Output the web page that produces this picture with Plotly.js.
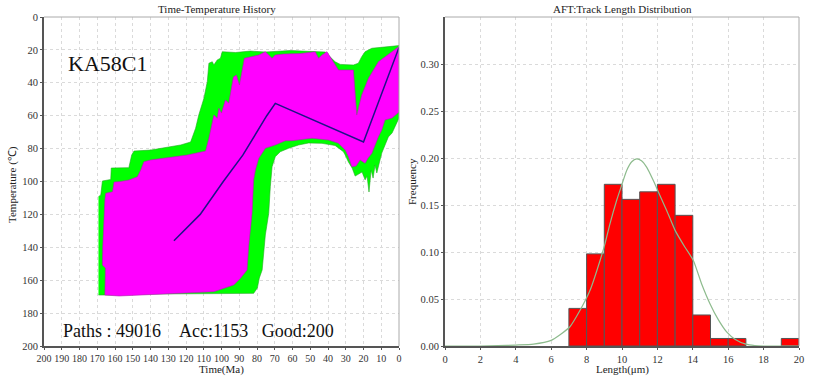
<!DOCTYPE html>
<html>
<head>
<meta charset="utf-8">
<script src="https://cdn.plot.ly/plotly-3.0.1.min.js"></script>
<style>html,body{margin:0;padding:0;background:#fff;}#chart{width:815px;height:377px;}</style>
</head>
<body>
<div id="chart"></div>
<script>
// ---------- Time-Temperature History (left) ----------
// Acceptable-fit envelope (green), outline: time (Ma), temperature (°C)
const accTime = [169.3,168.0,167.1,162.4,162.1,152.2,150.6,149.3,139.9,123.0,117.4,114.6,112.8,109.9,108.0,107.1,105.2,104.3,102.4,100.6,99.6,92.1,83.7,75.3,61.2,48.3,41.6,36.0,33.1,25.7,22.9,21.0,19.1,15.3,9.7,0.0,
  0.0,1.7,3.9,6.0,7.9,9.7,10.7,11.8,12.5,13.5,14.6,15.7,16.9,18.0,19.1,20.8,22.9,24.7,26.4,28.5,30.3,31.3,36.0,43.4,51.0,56.6,62.2,66.9,69.7,71.5,72.5,73.4,75.3,76.2,77.1,78.7,79.8,81.9,111.8,139.9,156.7,168.0,169.3];
const accTemp = [109.2,108.2,99.7,98.8,91.8,91.6,83.9,81.5,80.9,77.8,76.0,67.7,59.6,49.4,39.3,28.1,27.2,29.2,26.1,25.1,21.1,21.6,20.7,21.3,20.4,20.7,21.3,27.2,28.8,29.2,28.1,24.1,21.1,19.0,18.4,17.4,
  61.4,65.7,70.5,72.9,77.8,82.7,86.9,93.0,94.8,90.0,97.9,93.0,106.4,96.7,99.0,94.2,95.4,96.7,91.8,88.1,83.9,81.9,78.1,76.8,76.6,77.8,79.8,81.9,84.9,91.0,103.2,119.3,132.5,141.6,153.8,158.7,164.7,168.0,168.1,168.4,169.0,169.3,169.0];

// Good-fit envelope (magenta), outline
const goodTime = [165.7,165.4,167.1,166.9,165.7,165.2,161.4,160.5,157.7,152.1,147.4,145.5,143.7,139.9,119.3,109.0,107.1,105.2,104.3,102.4,101.5,100.0,97.8,95.9,93.3,91.6,89.9,87.1,79.0,75.3,71.5,69.7,65.0,55.6,48.1,47.2,45.3,43.4,40.6,36.0,34.1,25.7,23.8,21.0,17.2,11.6,4.1,0.0,
  0.0,3.9,7.9,9.7,11.6,13.5,15.3,17.4,19.1,21.9,24.2,26.6,28.5,30.3,34.1,39.7,49.0,60.3,64.0,69.7,75.3,79.0,80.9,81.9,82.8,84.7,85.6,89.3,93.1,104.3,123.0,139.9,157.7,165.7];
const goodTemp = [169.0,152.6,150.8,139.8,111.2,107.2,106.2,100.3,100.1,99.1,97.1,93.0,88.0,86.9,83.9,81.5,73.7,63.6,59.6,61.6,55.5,58.4,50.5,52.3,36.5,35.3,41.3,25.1,23.1,21.1,25.1,23.1,22.5,22.2,21.1,21.1,25.1,23.1,21.1,29.2,32.2,32.2,59.6,47.4,37.3,27.2,21.1,17.9,
  57.8,61.4,62.6,68.7,72.8,77.8,82.9,85.7,88.9,86.9,90.6,91.0,84.9,80.9,76.8,74.8,73.7,75.2,75.2,77.8,79.8,85.9,93.0,99.1,119.3,139.6,153.8,158.8,162.9,167.0,167.8,168.4,169.6,169.0];

// Best-fit path (blue)
const bestTime = [126.8,112.0,99.0,88.0,74.5,69.7,20.0,0.0];
const bestTemp = [136.0,120.0,100.0,84.0,60.0,52.5,76.0,18.5];

const timeTicks = [200,190,180,170,160,150,140,130,120,110,100,90,80,70,60,50,40,30,20,10,0];
const tempTicks = [0,20,40,60,80,100,120,140,160,180,200];

// ---------- AFT: Track Length Distribution (right) ----------
const binLeft = [7,8,9,10,11,12,13,14,15,16,19];
const binFreq = [0.040,0.098,0.172,0.156,0.164,0.172,0.139,0.033,0.008,0.008,0.008];

const curveLen  = [0,2,3,4,5,6,6.5,7.06,7.63,8.19,8.76,9.04,9.32,9.7,9.98,10.27,10.55,10.83,11.1,11.4,11.77,12.05,12.53,13.0,13.56,14.03,14.5,14.97,15.44,15.91,16.4,17,17.5,18,20];
const curveFreq = [0,0,0.0003,0.001,0.002,0.006,0.012,0.0205,0.038,0.059,0.091,0.109,0.130,0.155,0.171,0.187,0.196,0.199,0.197,0.190,0.176,0.164,0.144,0.123,0.105,0.091,0.066,0.045,0.028,0.015,0.007,0.002,0.0005,0,0];

const lengthTicks = [0,2,4,6,8,10,12,14,16,18,20];
const freqTicks = [0,0.05,0.10,0.15,0.20,0.25,0.30];

const binWidth = 1;
const binCenter = binLeft.map(v => v + binWidth / 2);

const SERIF = '"Liberation Serif", "Times New Roman", serif';
const tickFont = {family: SERIF, size: 10.5, color: '#333'};

const traces = [
  {type: 'scatter', x: accTime, y: accTemp, xaxis: 'x', yaxis: 'y', mode: 'lines', fill: 'toself',
   fillcolor: '#00ff00', line: {color: '#22aa22', width: 0.6}, hoverinfo: 'skip'},
  {type: 'scatter', x: goodTime, y: goodTemp, xaxis: 'x', yaxis: 'y', mode: 'lines', fill: 'toself',
   fillcolor: '#ff00ff', line: {color: '#b020b0', width: 0.6}, hoverinfo: 'skip'},
  {type: 'scatter', x: bestTime, y: bestTemp, xaxis: 'x', yaxis: 'y', mode: 'lines',
   line: {color: '#1f1288', width: 1.5}, hoverinfo: 'skip'},
  {type: 'bar', x: binCenter, y: binFreq, width: binWidth, xaxis: 'x2', yaxis: 'y2',
   marker: {color: '#ff0000', line: {color: '#555', width: 1}}, hoverinfo: 'skip'},
  {type: 'scatter', x: curveLen, y: curveFreq, xaxis: 'x2', yaxis: 'y2', mode: 'lines',
   line: {color: '#8dbb8d', width: 1.2, shape: 'spline', smoothing: 0.6}, hoverinfo: 'skip'}
];

const gridStyle = {showgrid: true, gridcolor: '#dadada', griddash: 'dot', gridwidth: 1, zeroline: false,
  showline: true, linecolor: '#555', linewidth: 2, ticks: 'outside', ticklen: 2, tickcolor: '#555',
  tickfont: tickFont, tickangle: 0};

const yDom = [31/377, 360/377];

const layout = {
  width: 815, height: 377,
  margin: {l: 0, r: 0, t: 0, b: 0},
  paper_bgcolor: '#fff', plot_bgcolor: '#fff',
  showlegend: false, hovermode: false,
  bargap: 0,
  xaxis: Object.assign({}, gridStyle, {domain: [44/815, 399/815], range: [200, 0], tickvals: timeTicks, anchor: 'y',
    tickfont: {family: SERIF, size: 10, color: '#333'}}),
  yaxis: Object.assign({}, gridStyle, {domain: yDom, range: [200, 0], tickvals: tempTicks, anchor: 'x'}),
  xaxis2: Object.assign({}, gridStyle, {domain: [445/815, 799/815], range: [0, 20], tickvals: lengthTicks, anchor: 'y2'}),
  yaxis2: Object.assign({}, gridStyle, {domain: yDom, range: [0, 0.35], tickvals: freqTicks, tickformat: '.2f', anchor: 'x2'}),
  shapes: [
    {type: 'line', xref: 'x domain', yref: 'y domain', x0: 0, x1: 1, y0: 1, y1: 1, line: {color: '#aaa', width: 1}},
    {type: 'line', xref: 'x domain', yref: 'y domain', x0: 1, x1: 1, y0: 0, y1: 1, line: {color: '#aaa', width: 1}},
    {type: 'line', xref: 'x2 domain', yref: 'y2 domain', x0: 0, x1: 1, y0: 1, y1: 1, line: {color: '#aaa', width: 1}},
    {type: 'line', xref: 'x2 domain', yref: 'y2 domain', x0: 1, x1: 1, y0: 0, y1: 1, line: {color: '#aaa', width: 1}}
  ],
  annotations: [
    {text: 'Time-Temperature History', xref: 'paper', yref: 'paper', x: 217/815, y: 1 - 9/377, showarrow: false,
     xanchor: 'center', yanchor: 'middle', font: {family: SERIF, size: 11, color: '#222'}},
    {text: 'AFT:Track Length Distribution', xref: 'paper', yref: 'paper', x: 622/815, y: 1 - 9/377, showarrow: false,
     xanchor: 'center', yanchor: 'middle', font: {family: SERIF, size: 11, color: '#222'}},
    {text: 'Time(Ma)', xref: 'paper', yref: 'paper', x: 221/815, y: 1 - 369/377, showarrow: false,
     xanchor: 'center', yanchor: 'middle', font: {family: SERIF, size: 11, color: '#222'}},
    {text: 'Length(μm)', xref: 'paper', yref: 'paper', x: 622/815, y: 1 - 369/377, showarrow: false,
     xanchor: 'center', yanchor: 'middle', font: {family: SERIF, size: 11, color: '#222'}},
    {text: 'Temperature (℃)', xref: 'paper', yref: 'paper', x: 12/815, y: 1 - 185/377, showarrow: false, textangle: -90,
     xanchor: 'center', yanchor: 'middle', font: {family: SERIF, size: 11, color: '#222'}},
    {text: 'Frequency', xref: 'paper', yref: 'paper', x: 412/815, y: 1 - 182/377, showarrow: false, textangle: -90,
     xanchor: 'center', yanchor: 'middle', font: {family: SERIF, size: 11, color: '#222'}},
    {text: 'KA58C1', xref: 'paper', yref: 'paper', x: 66/815, y: 1 - 63/377, showarrow: false,
     xanchor: 'left', yanchor: 'middle', font: {family: SERIF, size: 22, color: '#111'}},
    {text: 'Paths : 49016&nbsp;&nbsp;&nbsp;&nbsp;Acc:1153&nbsp;&nbsp;&nbsp;Good:200', xref: 'paper', yref: 'paper', x: 61/815, y: 1 - 331/377, showarrow: false,
     xanchor: 'left', yanchor: 'middle', font: {family: SERIF, size: 18, color: '#111'}}
  ]
};

Plotly.newPlot('chart', traces, layout, {staticPlot: true, displayModeBar: false});
</script>
</body>
</html>
